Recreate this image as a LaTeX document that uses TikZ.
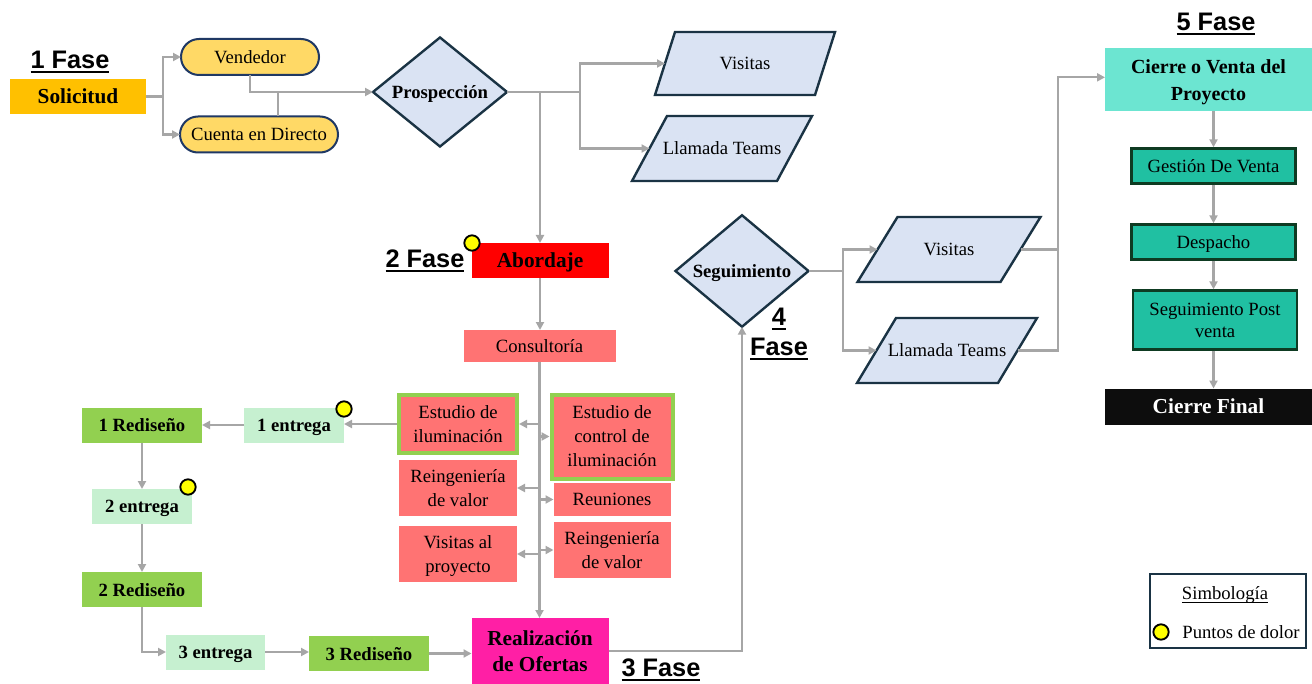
\documentclass[tikz,border=0pt]{standalone}
\usepackage{fontspec}
\setmainfont{Liberation Serif}
\newfontfamily\fasefont{Liberation Sans}
\usetikzlibrary{shapes.geometric,arrows.meta,calc}

\definecolor{conn}{HTML}{A6A6A6}
\definecolor{solfill}{HTML}{FFC000}
\definecolor{pillfill}{HTML}{FFD966}
\definecolor{navy}{HTML}{1F3864}
\definecolor{blufill}{HTML}{DAE3F3}
\definecolor{bluedge}{HTML}{1A3344}
\definecolor{redfill}{HTML}{FF0000}
\definecolor{salmon}{HTML}{FF7373}
\definecolor{lime}{HTML}{92D050}
\definecolor{mint}{HTML}{C6F0D0}
\definecolor{pinkfill}{HTML}{FF1FA5}
\definecolor{aqua}{HTML}{6CE5D1}
\definecolor{tealfill}{HTML}{20C0A2}
\definecolor{tealedge}{HTML}{0E3B22}
\definecolor{nearblack}{HTML}{0D0D0D}
\definecolor{dotyellow}{HTML}{FFFF00}

% thick underline for the phase headings
\newcommand\ulthick[1]{{\setbox0=\hbox{#1}\rlap{\rule[-3.5pt]{\wd0}{1.5pt}}\box0}}
\newcommand\ulthin[1]{{\setbox0=\hbox{#1}\rlap{\rule[-2.5pt]{\wd0}{0.7pt}}\box0}}

% parallelogram: name, cx, cy, side, height, slant, text
\newcommand\parabox[7]{%
  \draw[parastyle] ({#2-#4/2-#6/2},{#3+#5/2}) -- ({#2+#4/2-#6/2},{#3+#5/2})
    -- ({#2+#4/2+#6/2},{#3-#5/2}) -- ({#2-#4/2+#6/2},{#3-#5/2}) -- cycle;
  \node[base] (#1) at (#2,#3) {#7};
  \coordinate (#1-l) at ({#2-#4/2},#3);
  \coordinate (#1-r) at ({#2+#4/2},#3);
}

\tikzset{
  sz/.style 2 args={minimum width=#1*0.75pt, minimum height=#2*0.75pt},
  base/.style={inner sep=0pt, outer sep=0pt, align=center, text=black, text depth=0pt,
    font=\fontsize{14}{17}\selectfont},
  solbox/.style={base, fill=solfill, font=\bfseries\fontsize{16}{20}\selectfont},
  pill/.style={base, draw=navy, line width=1.5pt, fill=pillfill, rounded corners=13.5pt},
  dia/.style={base, shape=diamond, draw=bluedge, line width=1.8pt, fill=blufill,
    font=\bfseries\fontsize{14}{17}\selectfont},
  parastyle/.style={draw=bluedge, line width=1.8pt, fill=blufill},
  abobox/.style={base, fill=redfill, font=\bfseries\fontsize{16}{20}\selectfont},
  salm/.style={base, fill=salmon, font=\fontsize{14}{18}\selectfont},
  green edge/.style={draw=lime, line width=3pt, outer sep=1.5pt},
  mintbox/.style={base, fill=mint, font=\bfseries\fontsize{14}{17}\selectfont},
  limebox/.style={base, fill=lime, font=\bfseries\fontsize{14}{17}\selectfont},
  pinkbox/.style={base, fill=pinkfill, font=\bfseries\fontsize{16}{20}\selectfont},
  aquabox/.style={base, fill=aqua, font=\bfseries\fontsize{15}{20}\selectfont},
  tealbox/.style={base, fill=tealfill, draw=tealedge, line width=1.8pt, outer sep=0.9pt,
    font=\fontsize{14}{16.5}\selectfont},
  blackbox/.style={base, fill=nearblack, text=white, font=\bfseries\fontsize{16}{20}\selectfont},
  legbox/.style={draw=bluedge, line width=1.5pt, fill=white, inner sep=0pt},
  dot/.style={circle, draw=black, line width=1.4pt, fill=dotyellow, inner sep=0pt,
    minimum size=11.5pt},
  fase/.style={inner sep=0pt, align=center, text=black,
    font=\fasefont\bfseries\fontsize{19}{23}\selectfont},
  arr/.style={draw=conn, line width=1.6pt, -{Triangle[length=6pt,width=6pt]}},
  ln/.style={draw=conn, line width=1.6pt},
}

\begin{document}
\begin{tikzpicture}[x=0.75pt,y=-0.75pt]
\fill[white] (0,0) rectangle (1312,684);
\useasboundingbox (0,0) rectangle (1312,684);

% ---- Fase 1: solicitud y prospección
\node[fase] (f1) at (70,62) {\ulthick{1 Fase}};
\node[solbox, sz={136}{35}] (sol) at (78,96.5) {Solicitud};
\node[pill, sz={138}{36}] (vend) at (250,57) {Vendedor};
\node[pill, sz={158}{36}] (cta) at (259,134.5) {Cuenta en Directo};
\node[dia, sz={134}{87}] (pros) at (440,92) {Prospección};
\parabox{vis1}{745}{63.5}{160}{63}{20}{Visitas}
\parabox{ll1}{722}{148.5}{145}{65}{35}{Llamada Teams}

\coordinate (s1) at (163,96.5);
\draw[arr] (sol.east) -- (s1) |- (vend.west);
\draw[arr] (s1) |- (cta.west);
\draw[arr] (vend.south) |- (pros.west);
\coordinate (j1) at (278,92);
\draw[ln] (cta.north -| j1) -- (j1);
\coordinate (s2) at (580,92);
\draw[arr] (pros.east) -- (s2) |- (vis1-l);
\draw[arr] (s2) |- (ll1-l);

% ---- Fase 2: abordaje y consultoría
\node[fase] (f2) at (425,261) {\ulthick{2 Fase}};
\node[abobox, sz={137}{35}] (abo) at (540,260.5) {Abordaje};
\draw[arr] (pros.east -| abo.north) -- (abo.north);
\node[dot] (d1) at (472,243) {};
\node[salm, sz={152}{32}] (cons) at (539.5,346) {Consultoría};
\draw[arr] (abo.south) -- (abo.south |- cons.north);

\node[salm, green edge, sz={118}{58}] (est1) at (458,424) {Estudio de\\iluminación};
\node[salm, sz={118}{56}] (rei1) at (458,488) {Reingeniería\\de valor};
\node[salm, sz={118}{56}] (vpr) at (458,554) {Visitas al\\proyecto};
\node[salm, green edge, sz={121}{84}] (est2) at (612,436.5) {Estudio de\\control de\\iluminación};
\node[salm, sz={117}{33}] (reu) at (612,499.5) {Reuniones};
\node[salm, sz={117}{56}] (rei2) at (612,550) {Reingeniería\\de valor};

% ---- Fase 3: entregas, rediseños y ofertas
\node[pinkbox, sz={137}{66}] (real) at (540,651) {Realización\\de Ofertas};
\draw[arr] (cons.south) -- (cons.south |- real.north);
\foreach \n in {est1,rei1,vpr} \draw[arr] (\n.east -| cons.south) -- (\n.east);
\foreach \n in {est2,reu,rei2} \draw[arr] (\n.west -| cons.south) -- (\n.west);

\node[mintbox, sz={100}{35}] (ent1) at (294,425) {1 entrega};
\node[limebox, sz={120}{35}] (red1) at (142,425) {1 Rediseño};
\node[mintbox, sz={100}{35}] (ent2) at (142,506.5) {2 entrega};
\node[limebox, sz={120}{35}] (red2) at (142,589.5) {2 Rediseño};
\node[mintbox, sz={99}{35}] (ent3) at (215.5,652) {3 entrega};
\node[limebox, sz={120}{35}] (red3) at (369,653.5) {3 Rediseño};
\node[dot] (d2) at (344,409) {};
\node[dot] (d3) at (188,487) {};

\draw[arr] (est1.west) -- (est1.west -| ent1.east);
\draw[arr] (ent1.west) -- (red1.east);
\draw[arr] (red1.south) -- (ent2.north);
\draw[arr] (ent2.south) -- (red2.north);
\draw[arr] (red2.south) |- (ent3.west);
\draw[arr] (ent3.east) -- (ent3.east -| red3.west);
\draw[arr] (red3.east) -- (red3.east -| real.west);
\node[fase] (f3) at (661,670) {\ulthick{3 Fase}};

% ---- Fase 4: seguimiento
\node[dia, sz={133}{86}] (seg) at (742,271) {Seguimiento};
\draw[arr] (real.east) -| (seg.south);
\node[fase] (f4) at (779,334) {\ulthick{4}\\\ulthick{Fase}};
\parabox{vis2}{949}{249.5}{143}{65}{40}{Visitas}
\parabox{ll2}{947}{350.5}{141}{65}{39}{Llamada Teams}
\coordinate (s4) at (843,271);
\draw[arr] (seg.east) -- (s4) |- (vis2-l);
\draw[arr] (s4) |- (ll2-l);

% ---- Fase 5: cierre
\node[fase] (f5) at (1216,24) {\ulthick{5 Fase}};
\node[aquabox, sz={207}{63}] (cv) at (1208.5,80) {Cierre o Venta del\\Proyecto};
\node[tealbox, sz={164}{35}] (ges) at (1213.5,166) {Gestión De Venta};
\node[tealbox, sz={164}{35}] (desp) at (1213.5,242) {Despacho};
\node[tealbox, sz={164}{59}] (spv) at (1215,320) {Seguimiento Post\\venta};
\node[blackbox, sz={207}{36}] (cf) at (1208.5,406.5) {Cierre Final};

\coordinate (tk) at (1058,350.5);
\draw[ln] (vis2-r) -- (vis2-r -| tk);
\draw[arr] (ll2-r) -- (tk) |- ([yshift=2pt]cv.west);
\draw[arr] (cv.south -| ges.north) -- (ges.north);
\draw[arr] (ges.south) -- (desp.north);
\draw[arr] (desp.south) -- (desp.south |- spv.north);
\draw[arr] (spv.south -| ges.south) -- (cf.north -| ges.south);

% ---- legend
\node[legbox, sz={156}{74}] (leg) at (1227.5,610.5) {};
\node[base] (legt) at (1225,593) {\ulthin{Simbología}};
\node[dot] (d4) at (1161,632) {};
\node[base] (legd) at (1241,632) {Puntos de dolor};
\end{tikzpicture}
\end{document}
